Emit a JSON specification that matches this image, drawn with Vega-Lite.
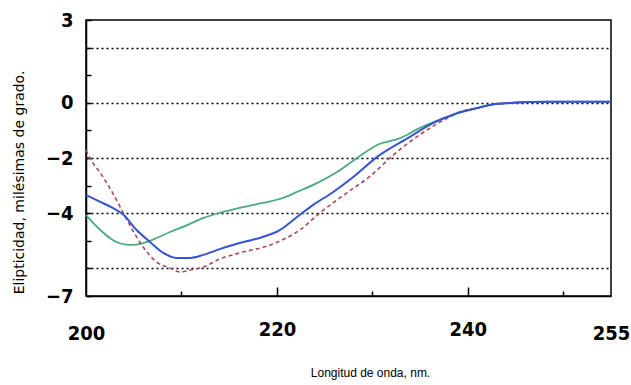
{
  "$schema": "https://vega.github.io/schema/vega-lite/v6.json",
  "autosize": "none",
  "width": 525,
  "height": 276,
  "padding": {"top": 20, "left": 86, "right": 20, "bottom": 89},
  "background": "white",
  "config": {"view": {"stroke": "black", "strokeWidth": 1.5}},
  "data": {"values": [
    {"wl": 200, "e": -4.07, "s": "A"}, {"wl": 201.5, "e": -4.61, "s": "A"}, {"wl": 202.8, "e": -4.97, "s": "A"}, {"wl": 204.6, "e": -5.15, "s": "A"}, {"wl": 206, "e": -5.08, "s": "A"}, {"wl": 207.4, "e": -4.9, "s": "A"}, {"wl": 208.8, "e": -4.68, "s": "A"}, {"wl": 210.6, "e": -4.43, "s": "A"}, {"wl": 212.3, "e": -4.17, "s": "A"}, {"wl": 214, "e": -3.99, "s": "A"}, {"wl": 216.1, "e": -3.81, "s": "A"}, {"wl": 218.5, "e": -3.63, "s": "A"}, {"wl": 220.6, "e": -3.45, "s": "A"}, {"wl": 222.1, "e": -3.23, "s": "A"}, {"wl": 224.2, "e": -2.91, "s": "A"}, {"wl": 226.3, "e": -2.51, "s": "A"}, {"wl": 228.4, "e": -2.0, "s": "A"}, {"wl": 230.5, "e": -1.53, "s": "A"}, {"wl": 232.9, "e": -1.28, "s": "A"}, {"wl": 235, "e": -0.91, "s": "A"}, {"wl": 236.4, "e": -0.7, "s": "A"}, {"wl": 237.8, "e": -0.51, "s": "A"}, {"wl": 239.2, "e": -0.33, "s": "A"}, {"wl": 241, "e": -0.19, "s": "A"}, {"wl": 242.3, "e": -0.08, "s": "A"}, {"wl": 244.7, "e": 0.0, "s": "A"}, {"wl": 246.5, "e": 0.03, "s": "A"}, {"wl": 250, "e": 0.04, "s": "A"}, {"wl": 255, "e": 0.04, "s": "A"},
    {"wl": 200, "e": -1.71, "s": "B"}, {"wl": 200.4, "e": -2.0, "s": "B"}, {"wl": 201.5, "e": -2.54, "s": "B"}, {"wl": 202.8, "e": -3.27, "s": "B"}, {"wl": 204.3, "e": -4.25, "s": "B"}, {"wl": 205.7, "e": -5.08, "s": "B"}, {"wl": 207.4, "e": -5.77, "s": "B"}, {"wl": 208.8, "e": -5.99, "s": "B"}, {"wl": 209.9, "e": -6.13, "s": "B"}, {"wl": 210.9, "e": -6.06, "s": "B"}, {"wl": 212.3, "e": -5.95, "s": "B"}, {"wl": 214, "e": -5.66, "s": "B"}, {"wl": 216.1, "e": -5.44, "s": "B"}, {"wl": 219.3, "e": -5.15, "s": "B"}, {"wl": 222.4, "e": -4.61, "s": "B"}, {"wl": 224.5, "e": -3.99, "s": "B"}, {"wl": 227.3, "e": -3.27, "s": "B"}, {"wl": 229.8, "e": -2.65, "s": "B"}, {"wl": 232.2, "e": -1.89, "s": "B"}, {"wl": 235.7, "e": -0.99, "s": "B"}, {"wl": 238.1, "e": -0.51, "s": "B"}, {"wl": 239.2, "e": -0.33, "s": "B"}, {"wl": 241, "e": -0.19, "s": "B"}, {"wl": 242.3, "e": -0.08, "s": "B"}, {"wl": 244.7, "e": 0.0, "s": "B"}, {"wl": 246.5, "e": 0.03, "s": "B"}, {"wl": 250, "e": 0.04, "s": "B"}, {"wl": 255, "e": 0.04, "s": "B"},
    {"wl": 200, "e": -3.34, "s": "C"}, {"wl": 201.5, "e": -3.59, "s": "C"}, {"wl": 202.8, "e": -3.81, "s": "C"}, {"wl": 203.9, "e": -4.05, "s": "C"}, {"wl": 205.3, "e": -4.61, "s": "C"}, {"wl": 206.7, "e": -5.04, "s": "C"}, {"wl": 208.1, "e": -5.44, "s": "C"}, {"wl": 209.5, "e": -5.62, "s": "C"}, {"wl": 210.9, "e": -5.62, "s": "C"}, {"wl": 212.3, "e": -5.51, "s": "C"}, {"wl": 214, "e": -5.3, "s": "C"}, {"wl": 216.1, "e": -5.08, "s": "C"}, {"wl": 218.5, "e": -4.86, "s": "C"}, {"wl": 220.3, "e": -4.61, "s": "C"}, {"wl": 222.1, "e": -4.14, "s": "C"}, {"wl": 223.8, "e": -3.7, "s": "C"}, {"wl": 225.9, "e": -3.23, "s": "C"}, {"wl": 228, "e": -2.69, "s": "C"}, {"wl": 230.5, "e": -1.96, "s": "C"}, {"wl": 233.9, "e": -1.24, "s": "C"}, {"wl": 236.4, "e": -0.73, "s": "C"}, {"wl": 238.4, "e": -0.44, "s": "C"}, {"wl": 241, "e": -0.19, "s": "C"}, {"wl": 242.3, "e": -0.08, "s": "C"}, {"wl": 244.7, "e": 0.0, "s": "C"}, {"wl": 246.5, "e": 0.03, "s": "C"}, {"wl": 250, "e": 0.04, "s": "C"}, {"wl": 255, "e": 0.04, "s": "C"}
  ]},
  "encoding": {
    "x": {"field": "wl", "type": "quantitative",
      "scale": {"domain": [200, 255], "nice": false, "zero": false},
      "axis": {
        "title": "Longitud de onda, nm.",
        "titleFont": "Liberation Sans", "titleFontSize": 12, "titleFontWeight": "normal", "titleColor": "black",
        "titleX": 284, "titleY": 76, "titleBaseline": "middle",
        "values": [200, 210, 220, 230, 240, 250, 255],
        "labelExpr": "(datum.value == 200 || datum.value == 220 || datum.value == 240 || datum.value == 255) ? datum.label : ''",
        "labelFont": "DejaVu Sans Condensed", "labelFontWeight": "bold", "labelFontSize": 20, "labelColor": "black",
        "labelFlush": false, "labelPadding": 32, "labelOverlap": false,
        "tickColor": "black", "tickWidth": 1.5,
        "tickSize": {"condition": {"test": "datum.value == 220 || datum.value == 240", "value": -9}, "value": -5},
        "tickOpacity": {"condition": {"test": "datum.value == 200 || datum.value == 255", "value": 0}, "value": 1},
        "domainColor": "black", "domainWidth": 1.5,
        "grid": false
      }
    },
    "y": {"field": "e", "type": "quantitative",
      "scale": {"domain": [-7, 3], "nice": false, "zero": false},
      "axis": {
        "title": "Elipticidad, milésimas de grado.",
        "titleFont": "DejaVu Sans", "titleFontSize": 14, "titleFontWeight": "normal", "titleColor": "black",
        "titleX": -67, "titleY": 162, "titleBaseline": "middle",
        "values": [-7, -6, -5, -4, -3, -2, -1, 0, 1, 2, 3],
        "labelExpr": "(datum.value == 3 || datum.value == 0 || datum.value == -2 || datum.value == -4 || datum.value == -7) ? datum.label : ''",
        "labelFont": "DejaVu Sans Condensed", "labelFontWeight": "bold", "labelFontSize": 20, "labelColor": "black",
        "labelFlush": false, "labelPadding": 18, "labelOverlap": false,
        "tickColor": "black", "tickWidth": 1.5, "tickSize": -5,
        "domainColor": "black", "domainWidth": 1.5,
        "grid": true, "gridColor": "black", "gridDash": [2, 3], "gridWidth": 1.5,
        "gridOpacity": {"condition": {"test": "datum.value == 2 || datum.value == 0 || datum.value == -2 || datum.value == -4 || datum.value == -6", "value": 1}, "value": 0}
      }
    }
  },
  "layer": [
    {"transform": [{"filter": "datum.s == 'A'"}], "mark": {"type": "line", "color": "#4aab7e", "strokeWidth": 1.8, "interpolate": "monotone"}},
    {"transform": [{"filter": "datum.s == 'B'"}], "mark": {"type": "line", "color": "#a84a5c", "strokeWidth": 1.6, "strokeDash": [4, 3], "interpolate": "monotone"}},
    {"transform": [{"filter": "datum.s == 'C'"}], "mark": {"type": "line", "color": "#3553d2", "strokeWidth": 2, "interpolate": "monotone"}}
  ]
}
